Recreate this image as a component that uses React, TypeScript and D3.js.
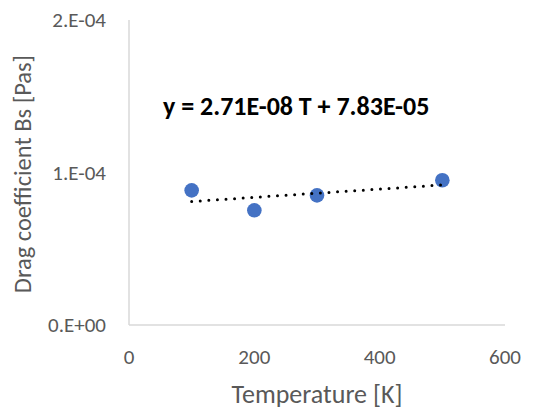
import React from 'react';
import * as d3 from 'd3';

const temps = [100, 200, 300, 500];
const dragValues = [8.83e-5, 7.52e-5, 8.5e-5, 9.49e-5];
const xTicks = [0, 200, 400, 600];
const yTicks = [0, 1e-4, 2e-4];
const yTickLabels = ['0.E+00', '1.E-04', '2.E-04'];
const slope = 2.71e-8;
const intercept = 7.83e-5;
const equation = 'y = 2.71E-08 T + 7.83E-05';

const W = 537;
const H = 410;
const font = "Carlito, Calibri, 'Open Sans', sans-serif";

export default function App() {
  const x = d3.scaleLinear().domain([0, 600]).range([129, 505]);
  const y = d3.scaleLinear().domain([0, 2e-4]).range([325, 20]);

  const trendExtent = d3.extent(temps) as [number, number];
  const trend = d3.line<number>()
    .x((t) => x(t))
    .y((t) => y(slope * t + intercept))(trendExtent);

  return (
    <svg width={W} height={H} style={{ position: 'absolute', left: 0, top: 0, background: '#fff' }}>
      {/* axes */}
      <line x1={x(0)} x2={x(0)} y1={y(2e-4)} y2={y(0)} stroke="#d9d9d9" strokeWidth={1.5} />
      <line x1={x(0)} x2={x(600)} y1={y(0)} y2={y(0)} stroke="#d9d9d9" strokeWidth={1.5} />

      {yTicks.map((v, i) => (
        <text key={v} x={106} y={y(v)} dy="0.35em" textAnchor="end"
          fontFamily={font} fontSize={21} fill="#595959">{yTickLabels[i]}</text>
      ))}
      {xTicks.map((v) => (
        <text key={v} x={x(v)} y={357} dy="0.35em" textAnchor="middle"
          fontFamily={font} fontSize={21} fill="#595959">{v}</text>
      ))}

      <text x={317} y={403} textAnchor="middle"
        fontFamily={font} fontSize={26} fill="#595959">Temperature [K]</text>
      <text transform={`translate(22,174) rotate(-90)`} dy="0.35em" textAnchor="middle"
        fontFamily={font} fontSize={24.5} fill="#595959">Drag coefficient Bs [Pas]</text>

      {temps.map((t, i) => (
        <circle key={t} cx={x(t)} cy={y(dragValues[i])} r={7.3} fill="#4472c4" />
      ))}

      <path d={trend ?? ''} fill="none" stroke="#000" strokeWidth={3}
        strokeLinecap="round" strokeDasharray="0 8.6" />

      <text x={163} y={115} fontFamily={font} fontSize={26}
        fontWeight="bold" fill="#000">{equation}</text>
    </svg>
  );
}
